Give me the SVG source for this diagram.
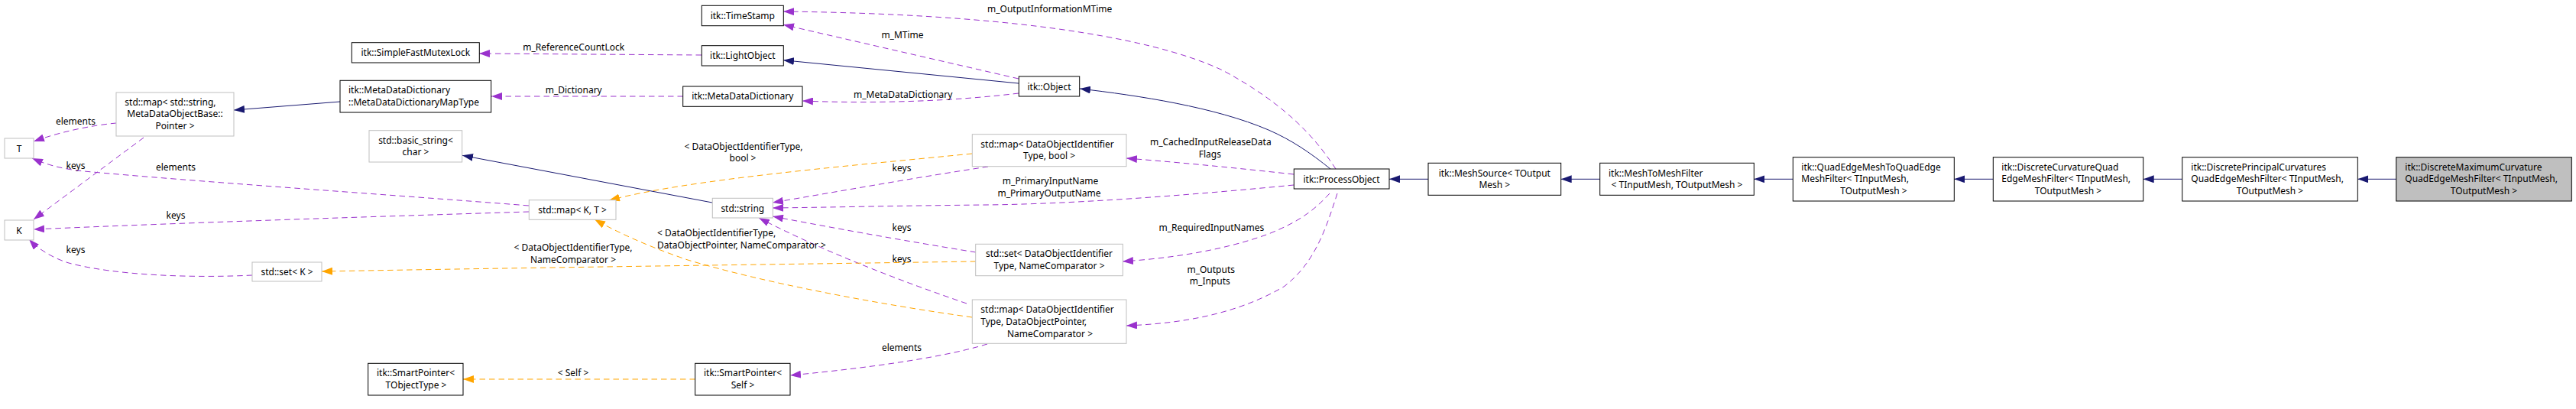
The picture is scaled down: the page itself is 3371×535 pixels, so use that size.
<svg xmlns="http://www.w3.org/2000/svg" width="3371" height="535" viewBox="0 0 3371 535">
<style>
text{font-family:"Noto Sans","DejaVu Sans",sans-serif;font-size:12px;fill:#000}
.m{text-anchor:middle}
.s{text-anchor:start}
.doc{fill:#fff;stroke:#000;stroke-width:1}
.und{fill:#fff;stroke:#bfbfbf;stroke-width:1}
.cur{fill:#bfbfbf;stroke:#000;stroke-width:1}
.inh{fill:none;stroke:#191970;stroke-width:1;marker-end:url(#an)}
.use{fill:none;stroke:#9a32cd;stroke-width:1;stroke-dasharray:7.5,5;marker-end:url(#ap)}
.tpl{fill:none;stroke:#ffa500;stroke-width:1;stroke-dasharray:7.5,5;marker-end:url(#ao)}
</style>
<defs>
<marker id="an" markerUnits="userSpaceOnUse" markerWidth="14" markerHeight="10" viewBox="0 0 14 10" refX="14" refY="5" orient="auto"><path d="M0,0 L14,5 L0,10 z" fill="#191970"/></marker>
<marker id="ap" markerUnits="userSpaceOnUse" markerWidth="14" markerHeight="10" viewBox="0 0 14 10" refX="14" refY="5" orient="auto"><path d="M0,0 L14,5 L0,10 z" fill="#9a32cd"/></marker>
<marker id="ao" markerUnits="userSpaceOnUse" markerWidth="14" markerHeight="10" viewBox="0 0 14 10" refX="14" refY="5" orient="auto"><path d="M0,0 L14,5 L0,10 z" fill="#ffa500"/></marker>
</defs>
<rect width="3371" height="535" fill="#fff"/>

<g id="connectors">
<path class="inh" d="M3136,234.3 L3085.3,234.3"/>
<path class="inh" d="M2856,234.3 L2804.7,234.3"/>
<path class="inh" d="M2608,234.3 L2557.3,234.3"/>
<path class="inh" d="M2346,234.3 L2295.3,234.3"/>
<path class="inh" d="M2094,234.3 L2042.7,234.3"/>
<path class="inh" d="M1869,234.3 L1818,234.3"/>
<path class="inh" d="M1741,221 C1715,200 1690,183 1660,170 C1590,140 1490,125 1413,116"/>
<path class="inh" d="M1333,109 L1025,78.7"/>
<path class="inh" d="M932,265 L605,203.3"/>
<path class="inh" d="M445,133 L306,144"/>

<path class="use" d="M918,72 L627,70"/>
<text class="m" x="750.7" y="66">m_ReferenceCountLock</text>
<path class="use" d="M894,126 L643,126"/>
<text class="m" x="750.7" y="122">m_Dictionary</text>
<path class="use" d="M1748,221 C1720,178 1680,135 1600,92 C1500,45 1300,18 1025,15"/>
<text class="m" x="1373.7" y="16">m_OutputInformationMTime</text>
<path class="use" d="M1333,103 L1025,32.3"/>
<text class="m" x="1181" y="49.5">m_MTime</text>
<path class="use" d="M1333,122 C1250,132 1150,136 1050,132"/>
<text class="m" x="1181.7" y="128">m_MetaDataDictionary</text>
<path class="use" d="M152,161 C120,164 80,172 44,185"/>
<text class="m" x="99" y="163">elements</text>
<path class="use" d="M188,180 L44,287"/>
<text class="m" x="99" y="221">keys</text>
<path class="use" d="M692,269 C500,254 250,237 110,224 C80,221 60,215 42,207"/>
<text class="m" x="230" y="223">elements</text>
<path class="use" d="M692,277 C500,283 250,291 44,300"/>
<text class="m" x="230" y="286">keys</text>
<path class="use" d="M330,360 C250,364 150,360 90,344 C70,338 50,326 38,313"/>
<text class="m" x="99" y="331">keys</text>
<path class="use" d="M1293,218 C1200,232 1100,250 1011,265"/>
<text class="m" x="1180" y="223.5">keys</text>
<path class="use" d="M1693,242 C1550,256 1400,267 1290,268 C1180,269 1100,271 1011,272"/>
<text class="m" x="1374.5" y="241">m_PrimaryInputName</text>
<text class="m" x="1373" y="256.7">m_PrimaryOutputName</text>
<path class="use" d="M1277,330 C1190,316 1100,300 1011,283"/>
<text class="m" x="1180" y="301.5">keys</text>
<path class="use" d="M1265,397 C1180,368 1080,330 993,285"/>
<text class="m" x="1180" y="342.5">keys</text>
<path class="use" d="M1740,253 C1720,275 1700,290 1660,306 C1600,328 1530,338 1469,342"/>
<text class="m" x="1585.3" y="301.5">m_RequiredInputNames</text>
<path class="use" d="M1750,253 C1735,300 1720,345 1680,375 C1620,410 1550,423 1474,426"/>
<text class="m" x="1584.7" y="356.5">m_Outputs</text>
<text class="m" x="1583.3" y="372">m_Inputs</text>
<path class="use" d="M1693,228 C1620,220 1550,213 1474,207"/>
<text class="m" x="1584.3" y="190">m_CachedInputReleaseData</text>
<text class="m" x="1583.3" y="206">Flags</text>
<path class="use" d="M1292,450 C1240,466 1150,480 1034,491"/>
<text class="m" x="1180" y="458.5">elements</text>

<path class="tpl" d="M1272,201 C1100,218 900,235 797,262"/>
<text class="m" x="973" y="195.5">&lt; DataObjectIdentifierType,</text>
<text class="m" x="972" y="211">bool &gt;</text>
<path class="tpl" d="M1272,415 C1150,398 1000,370 900,340 C850,323 810,305 778,287"/>
<text class="s" x="860" y="308.5">&lt; DataObjectIdentifierType,</text>
<text class="s" x="860" y="324.5">DataObjectPointer, NameComparator &gt;</text>
<path class="tpl" d="M1277,342 C1000,346 700,350 421,355"/>
<text class="m" x="750" y="328">&lt; DataObjectIdentifierType,</text>
<text class="m" x="750" y="343.5">NameComparator &gt;</text>
<path class="tpl" d="M910,496 L606,496"/>
<text class="m" x="750" y="492">&lt; Self &gt;</text>
</g>

<g id="n_T"><rect class="und" x="6" y="181" width="38" height="26"/><text class="m" x="25" y="198.5">T</text></g>
<g id="n_K"><rect class="und" x="6" y="288" width="38" height="26"/><text class="m" x="25" y="305.5">K</text></g>
<g id="n_map_string"><rect class="und" x="152" y="121" width="154" height="57"/>
<text class="s" x="163.3" y="137.5">std::map&lt; std::string,</text>
<text class="s" x="166.3" y="153">MetaDataObjectBase::</text>
<text class="m" x="229" y="168.5">Pointer &gt;</text></g>
<g id="n_set_K"><rect class="und" x="330" y="343" width="91" height="25"/><text class="m" x="375.5" y="359.5">std::set&lt; K &gt;</text></g>
<g id="n_mutex"><rect class="doc" x="460.3" y="55.7" width="167" height="26.3"/><text class="m" x="543.8" y="73">itk::SimpleFastMutexLock</text></g>
<g id="n_maptype"><rect class="doc" x="445" y="105.3" width="197.7" height="41.7"/>
<text class="s" x="456" y="122">itk::MetaDataDictionary</text>
<text class="s" x="456" y="137.5">::MetaDataDictionaryMapType</text></g>
<g id="n_basic_string"><rect class="und" x="483" y="170.7" width="121.7" height="41.3"/>
<text class="m" x="544" y="187.5">std::basic_string&lt;</text>
<text class="m" x="544" y="203">char &gt;</text></g>
<g id="n_map_KT"><rect class="und" x="692.3" y="261.7" width="113.7" height="25.6"/><text class="m" x="749" y="278.5">std::map&lt; K, T &gt;</text></g>
<g id="n_sp_tobj"><rect class="doc" x="481.7" y="475.3" width="124.3" height="41.7"/>
<text class="m" x="544" y="492.2">itk::SmartPointer&lt;</text>
<text class="m" x="544.5" y="507.8">TObjectType &gt;</text></g>
<g id="n_timestamp"><rect class="doc" x="918.3" y="7.3" width="107" height="26.4"/><text class="m" x="971.8" y="24.5">itk::TimeStamp</text></g>
<g id="n_lightobject"><rect class="doc" x="918.3" y="59.7" width="107" height="26.3"/><text class="m" x="971.8" y="76.8">itk::LightObject</text></g>
<g id="n_mdd"><rect class="doc" x="893.7" y="113" width="156.3" height="26.3"/><text class="m" x="971.8" y="130">itk::MetaDataDictionary</text></g>
<g id="n_string"><rect class="und" x="932.3" y="259.3" width="79" height="25.7"/><text class="m" x="971.8" y="276.5">std::string</text></g>
<g id="n_sp_self"><rect class="doc" x="909.7" y="475.3" width="124.3" height="41.7"/>
<text class="m" x="972" y="492.2">itk::SmartPointer&lt;</text>
<text class="m" x="972" y="507.8">Self &gt;</text></g>
<g id="n_map_bool"><rect class="und" x="1272.3" y="175.7" width="201.7" height="42"/>
<text class="s" x="1283.3" y="192.5">std::map&lt; DataObjectIdentifier</text>
<text class="m" x="1373" y="208">Type, bool &gt;</text></g>
<g id="n_set_doi"><rect class="und" x="1276.7" y="319.3" width="192.6" height="41.4"/>
<text class="m" x="1373" y="336">std::set&lt; DataObjectIdentifier</text>
<text class="m" x="1373" y="351.5">Type, NameComparator &gt;</text></g>
<g id="n_map_ptr"><rect class="und" x="1272.3" y="392" width="201.7" height="57.3"/>
<text class="s" x="1283.3" y="409.3">std::map&lt; DataObjectIdentifier</text>
<text class="s" x="1283.3" y="425">Type, DataObjectPointer,</text>
<text class="m" x="1374" y="440.5">NameComparator &gt;</text></g>
<g id="n_object"><rect class="doc" x="1333.3" y="100" width="79.4" height="26"/><text class="m" x="1373" y="117.5">itk::Object</text></g>
<g id="n_processobject"><rect class="doc" x="1693.3" y="221" width="124.7" height="26"/><text class="m" x="1755.6" y="238.5">itk::ProcessObject</text></g>
<g id="n_meshsource"><rect class="doc" x="1869" y="213.3" width="173.7" height="42"/>
<text class="m" x="1955.8" y="230.5">itk::MeshSource&lt; TOutput</text>
<text class="m" x="1955.8" y="246">Mesh &gt;</text></g>
<g id="n_meshtomesh"><rect class="doc" x="2093.7" y="213.3" width="201.6" height="42"/>
<text class="s" x="2105" y="230.5">itk::MeshToMeshFilter</text>
<text class="m" x="2194.5" y="246">&lt; TInputMesh, TOutputMesh &gt;</text></g>
<g id="n_qe2qe"><rect class="doc" x="2346.3" y="205.7" width="211" height="57.3"/>
<text class="s" x="2357.3" y="222.5">itk::QuadEdgeMeshToQuadEdge</text>
<text class="s" x="2357.3" y="238">MeshFilter&lt; TInputMesh,</text>
<text class="m" x="2452" y="253.5">TOutputMesh &gt;</text></g>
<g id="n_dcurv"><rect class="doc" x="2608.3" y="205.7" width="196.4" height="57.3"/>
<text class="s" x="2619.3" y="222.5">itk::DiscreteCurvatureQuad</text>
<text class="s" x="2619.3" y="238">EdgeMeshFilter&lt; TInputMesh,</text>
<text class="m" x="2706.5" y="253.5">TOutputMesh &gt;</text></g>
<g id="n_dprinc"><rect class="doc" x="2855.7" y="205.7" width="229.6" height="57.3"/>
<text class="s" x="2867.3" y="222.5">itk::DiscretePrincipalCurvatures</text>
<text class="s" x="2867.3" y="238">QuadEdgeMeshFilter&lt; TInputMesh,</text>
<text class="m" x="2970.5" y="253.5">TOutputMesh &gt;</text></g>
<g id="n_dmax"><rect class="cur" x="3135.7" y="205.7" width="229.6" height="57.3"/>
<text class="s" x="3147.3" y="222.5">itk::DiscreteMaximumCurvature</text>
<text class="s" x="3147.3" y="238">QuadEdgeMeshFilter&lt; TInputMesh,</text>
<text class="m" x="3250.5" y="253.5">TOutputMesh &gt;</text></g>
</svg>
